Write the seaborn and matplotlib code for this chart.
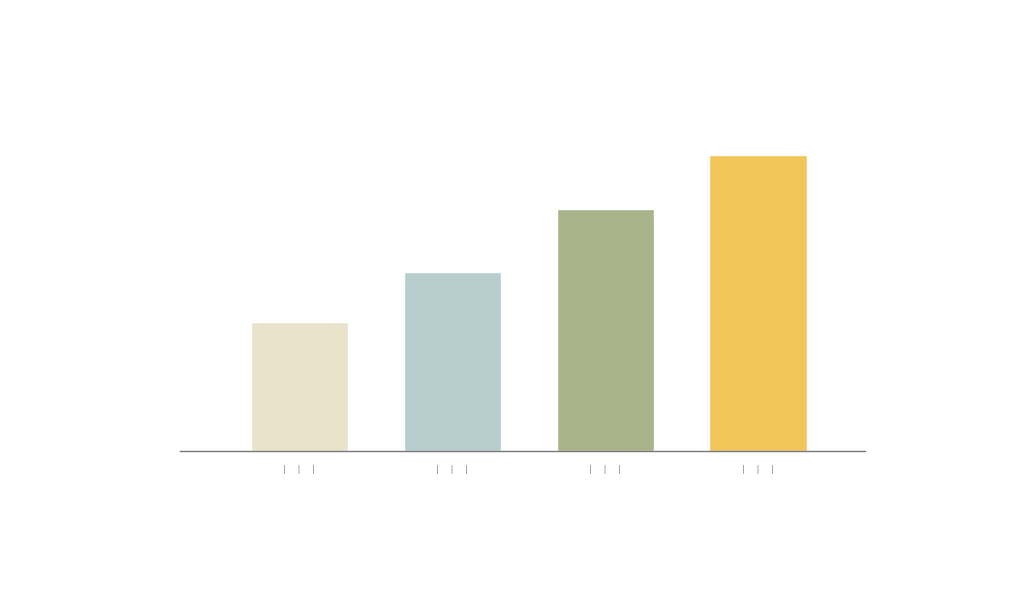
import pandas as pd
import seaborn as sns
import matplotlib.pyplot as plt

categories = ['A', 'B', 'C', 'D']
values = [43.6, 60.5, 81.8, 100]
tick_labels = ['|    |    |', '|    |    |', '|    |    |', '|    |    |']
colors = ['#E9E3CB', '#B8CDCE', '#A9B48A', '#F2C55B']

df = pd.DataFrame({'category': categories, 'value': values})

sns.set_style('white')
fig = plt.figure(figsize=(10.24, 6.14), dpi=100)
ax = fig.add_axes([180 / 1024, 163 / 614, 685 / 1024, 296 / 614])

sns.barplot(data=df, x='category', y='value', hue='category', palette=colors,
            width=0.635, legend=False, ax=ax, saturation=1)

ax.set_xlim(-0.78, 3.70)
ax.set_ylim(0, 100)
for side in ['top', 'right', 'left']:
    ax.spines[side].set_visible(False)
ax.spines['bottom'].set_color('#777777')
ax.spines['bottom'].set_linewidth(1.0)
ax.set_yticks([])
ax.set_xticks(range(len(categories)))
ax.set_xticklabels(tick_labels, color='#888888', fontsize=6.5)
ax.tick_params(axis='x', length=0, pad=10)
ax.set_xlabel('')
ax.set_ylabel('')

fig.savefig('out.png', dpi=100, facecolor='white')
